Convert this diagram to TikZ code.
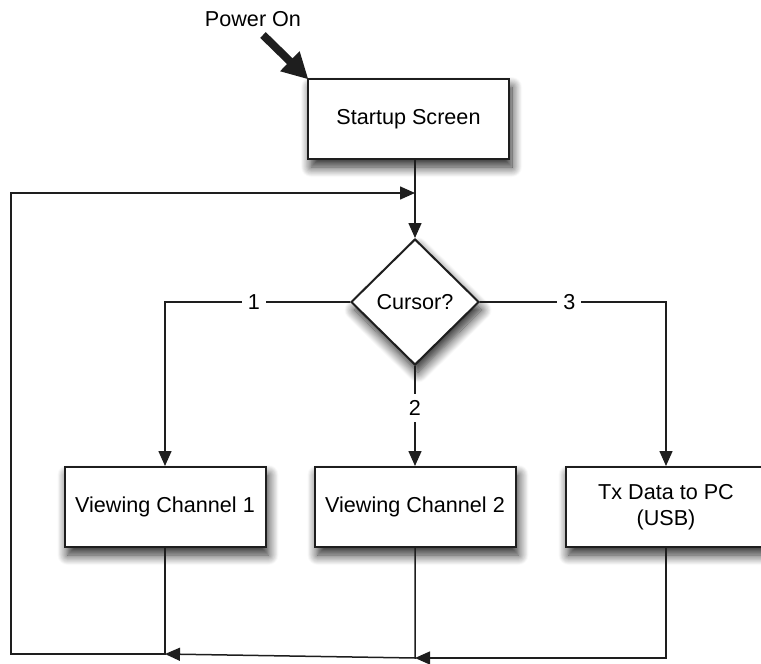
\documentclass[tikz,border=0pt]{standalone}
\usepackage{fontspec}
\setmainfont{Liberation Sans}
\usetikzlibrary{arrows.meta,positioning,shapes.geometric,shadows.blur}
\definecolor{inkblack}{HTML}{1E1E1E}

\begin{document}
\begin{tikzpicture}[x=0.5pt, y=-0.5pt, font=\fontsize{10.8}{13}\selectfont,
  shade box/.style={blur shadow={shadow xshift=1.5pt, shadow yshift=-4pt, shadow blur radius=5pt, shadow blur steps=12, shadow opacity=85}},
  statebox/.style={draw=inkblack, line width=1pt, fill=white, minimum width=100.5pt, minimum height=40pt, align=center, inner sep=2pt, shade box},
  choice/.style={draw=inkblack, line width=1pt, fill=white, diamond, minimum width=64pt, minimum height=63pt, inner sep=0pt, shade box},
  flow/.style={draw=inkblack, line width=0.75pt, -{Triangle[length=7.5pt, width=6.5pt]}},
  branch/.style={fill=white, inner sep=3pt}]
  \useasboundingbox (0,0) rectangle (761,664);

  % power on and start screen
  \node (power) at (253,19) {Power On};
  \coordinate (pwrtail) at (263,35);
  \node[statebox] (startup) at (408.5,119) {Startup Screen};
  \draw[inkblack, line width=4pt, -{Triangle[length=13pt, width=13pt]}, shorten >=-1pt] (pwrtail) -- (startup.north west);

  % decision
  \node[choice] (cursor) at (415,302) {Cursor?};
  \draw[flow] (startup.south -| cursor.north) -- (cursor.north);

  % the three screens
  \node[statebox] (view1) at (165,507) {Viewing Channel 1};
  \node[statebox] (view2) at (415,507) {Viewing Channel 2};
  \node[statebox] (txdata) at (666,507) {Tx Data to PC\\(USB)};

  \draw[flow] (cursor.west) -| node[branch, pos=0.26] {1} (view1.north);
  \draw[flow] (cursor.south) -- node[branch, pos=0.42] {2} (view2.north);
  \draw[flow] (cursor.east) -| node[branch, pos=0.24] {3} (txdata.north);

  % return path back to the decision
  \coordinate (ret1) at (165,654);
  \coordinate (ret2) at (415,658);
  \coordinate (ret3) at (666,658);
  \coordinate (loopbot) at (11,654);
  \coordinate (looptop) at (11,193);
  \coordinate (join) at (415,193);
  \draw[flow] (txdata.south) -- (ret3) -- (ret2);
  \draw[flow] (view2.south) -- (ret2) -- (ret1);
  \draw[flow] (view1.south) -- (ret1) -- (loopbot) -- (looptop) -- (join);
\end{tikzpicture}
\end{document}
